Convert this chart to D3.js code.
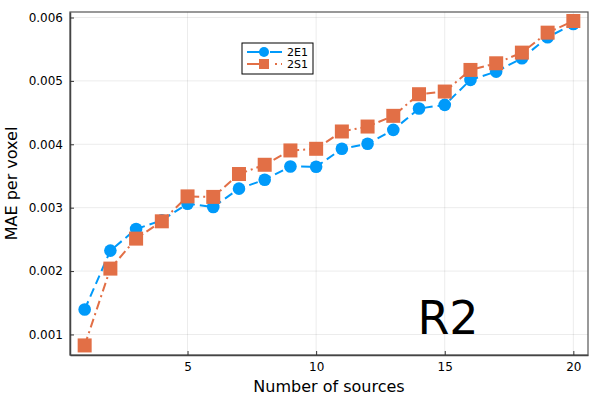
<!DOCTYPE html>
<html>
<head>
<meta charset="utf-8">
<script src="https://cdn.jsdelivr.net/npm/d3@7"></script>
<style>
body { margin: 0; background: #fff; }
text { font-family: "DejaVu Sans", sans-serif; fill: #000; }
.grid line { stroke: #000; stroke-opacity: 0.08; }
</style>
</head>
<body>
<svg width="600" height="400"></svg>
<script>
// number of sources
var sources = [1, 2, 3, 4, 5, 6, 7, 8, 9, 10, 11, 12, 13, 14, 15, 16, 17, 18, 19, 20];

var mae2E1 = [0.001394, 0.002323, 0.002664, 0.002800, 0.003063, 0.003011, 0.003300, 0.003441, 0.003650, 0.003645,
              0.003929, 0.004008, 0.004228, 0.004564, 0.004622, 0.005016, 0.005147, 0.005357, 0.005688, 0.005898];
var mae2S1 = [0.000827, 0.002039, 0.002512, 0.002785, 0.003178, 0.003170, 0.003531, 0.003677, 0.003903, 0.003929,
              0.004202, 0.004280, 0.004449, 0.004790, 0.004832, 0.005173, 0.005278, 0.005446, 0.005761, 0.005945];

var xTicks = [5, 10, 15, 20];
var yTicks = [0.001, 0.002, 0.003, 0.004, 0.005, 0.006];

var series = [
    { name: "2E1", values: mae2E1, color: "#009afa", dash: "9,5", marker: "circle" },
    { name: "2S1", values: mae2S1, color: "#e26f46", dash: "9,4,2,4", marker: "square" }
];

// plot box (window.top is reserved, so no "top" here)
var pLeft = 70, pRight = 588, pTop = 12, pBottom = 355;

var svg = d3.select("svg");

var x = d3.scaleLinear().domain([0.43, 20.57]).range([pLeft, pRight]);
var y = d3.scaleLinear().domain([0.000676, 0.006087]).range([pBottom, pTop]);

// grid
var grid = svg.append("g").attr("class", "grid");
grid.selectAll(".gx").data(xTicks).enter().append("line")
    .attr("x1", function(d) { return x(d); }).attr("x2", function(d) { return x(d); })
    .attr("y1", pTop).attr("y2", pBottom);
grid.selectAll(".gy").data(yTicks).enter().append("line")
    .attr("y1", function(d) { return y(d); }).attr("y2", function(d) { return y(d); })
    .attr("x1", pLeft).attr("x2", pRight);

// frame
svg.append("rect")
    .attr("x", pLeft).attr("y", pTop)
    .attr("width", pRight - pLeft).attr("height", pBottom - pTop)
    .attr("fill", "none").attr("stroke", "#555").attr("stroke-width", 1.2);

// axes, ticks pointing inward
var xAxis = svg.append("g")
    .attr("transform", "translate(0," + pBottom + ")")
    .call(d3.axisBottom(x).tickValues(xTicks).tickSizeInner(-4).tickSizeOuter(0).tickPadding(7));
var yAxis = svg.append("g")
    .attr("transform", "translate(" + pLeft + ",0)")
    .call(d3.axisLeft(y).tickValues(yTicks).tickFormat(d3.format(".3f")).tickSizeInner(-4).tickSizeOuter(0).tickPadding(7));

[xAxis, yAxis].forEach(function(a) {
    a.select(".domain").attr("stroke", "#444").attr("stroke-width", 1.5);
    a.selectAll(".tick line").attr("stroke", "#333");
    a.selectAll("text").style("font-size", "12px").attr("fill", "#000");
});

// lines and markers
var line = d3.line()
    .x(function(d, i) { return x(sources[i]); })
    .y(function(d) { return y(d); });

series.forEach(function(s) {
    svg.append("path")
        .datum(s.values)
        .attr("fill", "none")
        .attr("stroke", s.color)
        .attr("stroke-width", 2)
        .attr("stroke-dasharray", s.dash)
        .attr("d", line);
});

series.forEach(function(s) {
    var g = svg.append("g");
    if (s.marker == "circle") {
        g.selectAll("circle").data(s.values).enter().append("circle")
            .attr("cx", function(d, i) { return x(sources[i]); })
            .attr("cy", function(d) { return y(d); })
            .attr("r", 6.3)
            .attr("fill", s.color);
    } else {
        g.selectAll("rect").data(s.values).enter().append("rect")
            .attr("x", function(d, i) { return x(sources[i]) - 7; })
            .attr("y", function(d) { return y(d) - 7; })
            .attr("width", 14).attr("height", 14)
            .attr("fill", s.color);
    }
});

// legend
var lg = svg.append("g").attr("transform", "translate(242,43)");
lg.append("rect")
    .attr("width", 71).attr("height", 31)
    .attr("fill", "#fff").attr("stroke", "#000").attr("stroke-width", 1);
series.forEach(function(s, i) {
    var ly = 9 + i * 12;
    lg.append("line")
        .attr("x1", 5).attr("x2", 40).attr("y1", ly).attr("y2", ly)
        .attr("stroke", s.color).attr("stroke-width", 2)
        .attr("stroke-dasharray", s.marker == "circle" ? "20,3" : "18,10,2,4");
    if (s.marker == "circle") {
        lg.append("circle").attr("cx", 22).attr("cy", ly).attr("r", 5).attr("fill", s.color);
    } else {
        lg.append("rect").attr("x", 17).attr("y", ly - 5).attr("width", 10).attr("height", 10).attr("fill", s.color);
    }
    lg.append("text").attr("x", 45).attr("y", ly + 4).style("font-size", "11px").text(s.name);
});

// labels
svg.append("text")
    .attr("x", (pLeft + pRight) / 2).attr("y", 392)
    .attr("text-anchor", "middle").style("font-size", "16px")
    .text("Number of sources");
svg.append("text")
    .attr("transform", "translate(17," + ((pTop + pBottom) / 2) + ") rotate(-90)")
    .attr("text-anchor", "middle").style("font-size", "16px")
    .text("MAE per voxel");

svg.append("text")
    .attr("x", 448).attr("y", 334)
    .attr("text-anchor", "middle").style("font-size", "46px")
    .text("R2");
</script>
</body>
</html>
